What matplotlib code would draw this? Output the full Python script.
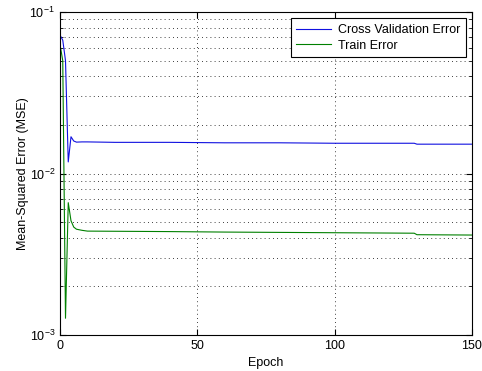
import matplotlib
matplotlib.use('Agg')
import matplotlib.pyplot as plt
from matplotlib.ticker import LogLocator, NullFormatter

plt.rcParams['font.family'] = ['Liberation Sans', 'DejaVu Sans']

# epochs sampled from the curves
epochs = [0, 1, 2, 3, 4, 5, 6, 8, 10, 20, 40, 60, 80, 100, 120, 129, 130, 150]
cv_err = [0.072, 0.067, 0.05, 0.0118, 0.0169, 0.0159, 0.01565, 0.0157, 0.0157,
          0.0156, 0.0156, 0.0155, 0.0155, 0.0154, 0.0154, 0.0154, 0.0152, 0.0152]
train_err = [0.063, 0.05, 0.00127, 0.0066, 0.0051, 0.00466, 0.00452, 0.00445, 0.0044,
             0.00439, 0.00437, 0.00434, 0.00432, 0.0043, 0.00428, 0.00427, 0.00418, 0.00416]

fig = plt.figure(figsize=(4.82, 3.71), dpi=100)
ax = fig.add_axes([0.1245, 0.097, 0.8545, 0.8705])

ax.semilogy(epochs, cv_err, color='#1010e0', lw=0.8, label='Cross Validation Error')
ax.semilogy(epochs, train_err, color='#008000', lw=0.8, label='Train Error')

ax.set_xlim(0, 150)
ax.set_ylim(1e-3, 1e-1)
ax.set_xticks([0, 50, 100, 150])
ax.yaxis.set_major_locator(LogLocator(base=10, numticks=10))
ax.yaxis.set_minor_locator(LogLocator(base=10, subs=range(2, 10), numticks=20))
ax.yaxis.set_minor_formatter(NullFormatter())

ax.tick_params(which='both', direction='in', top=True, right=True, labelsize=9)
ax.tick_params(which='major', length=4)
ax.tick_params(which='minor', length=2)
grid_kw = dict(ls=(0, (1, 4)), color='k', lw=0.6)
ax.grid(True, which='major', axis='x', **grid_kw)
ax.grid(True, which='both', axis='y', **grid_kw)

ax.set_xlabel('Epoch', fontsize=9, labelpad=4)
ax.set_ylabel('Mean-Squared Error (MSE)', fontsize=9, labelpad=0)

leg = ax.legend(loc='upper right', fontsize=9, fancybox=False, framealpha=1,
                edgecolor='k', borderaxespad=0.5, handlelength=2.8,
                borderpad=0.45, labelspacing=0.3, handletextpad=0.5)
leg.get_frame().set_linewidth(0.8)

fig.savefig('out.png', dpi=100)
